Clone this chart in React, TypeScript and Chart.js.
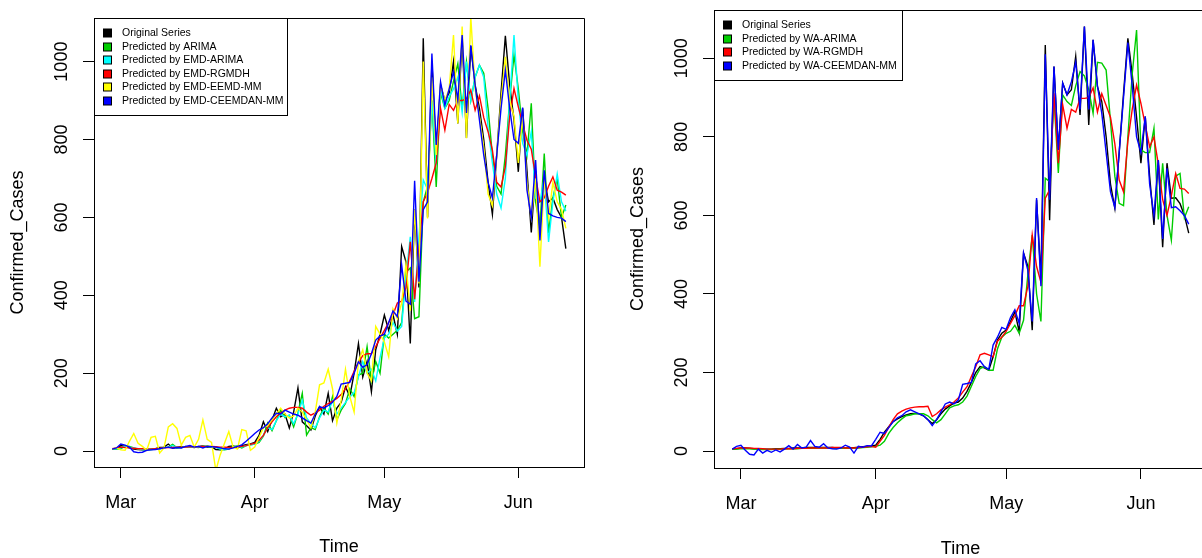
import React, { useEffect, useRef } from 'react';
import { Chart, registerables } from 'chart.js';

Chart.register(...registerables);

const FONT = "'Liberation Sans', Arial, Helvetica, sans-serif";

// x positions: day offsets relative to 1 March 2020 (first point = 28 Feb)
const START_DAY = -2;
const N_DAYS = 106;
const dayIndex: number[] = Array.from({ length: N_DAYS }, (_, i) => START_DAY + i);
const monthTicks = [0, 31, 61, 92];
const monthLabels = ['Mar', 'Apr', 'May', 'Jun'];
const yTickValues = [0, 200, 400, 600, 800, 1000];

// ---------- left panel ----------
const originalLeft = [
  5, 6, 14, 12, 8, 5, 4, 3, 4, 5, 6, 9, 10, 18, 8, 9, 12, 10, 11, 9, 12, 13, 10, 11, 4, 3, 5, 12, 13, 8, 14, 16, 18,
  22, 40, 75, 50, 80, 110, 88, 95, 59, 100,
  162, 75, 65, 54, 90, 114, 95, 148, 78, 110,
  125, 165, 140, 200, 276, 190, 230, 152, 260, 300,
  349, 310, 350, 300, 525, 486, 276, 620, 420, 1060,
  600, 1000, 760, 940, 900, 920, 1000, 841, 1060, 804,
  1040, 940, 880, 800, 690, 608, 760, 920, 1066, 940,
  850, 717, 880, 720, 561, 720, 560, 700, 640, 650,
  620, 600, 520,
];
const arimaLeft = [
  5, 5, 6, 13, 12, 8, 5, 4, 3, 4, 5, 6, 9, 10, 17, 8, 9, 12, 10, 10, 9, 12, 13, 10, 11, 4, 3, 5, 12, 13, 8, 14, 16,
  18, 22, 38, 72, 52, 78, 105, 86, 92, 62,
  98, 148, 41, 60, 55, 88, 110, 95, 140, 80,
  105, 122, 160, 140, 195, 200, 268, 180, 230, 200,
  300, 290, 300, 310, 330, 460, 470, 340, 345, 640,
  680, 900, 678, 920, 880, 900, 950, 995, 880, 1000,
  900, 960, 991, 970, 880, 760, 680, 660, 760, 900,
  1017, 930, 820, 760, 893, 640, 576, 764, 560, 650,
  700, 600, 632,
];
const emdArimaLeft = [
  6, 6, 8, 12, 10, 8, 6, 4, 4, 4, 5, 6, 8, 10, 14, 9, 9, 11, 10, 11, 10, 12, 12, 11, 10, 6, 4, 6, 10, 12, 10, 14, 16,
  18, 25, 40, 60, 55, 78, 95, 88, 92, 70,
  95, 130, 85, 70, 60, 85, 105, 100, 130, 95,
  110, 125, 139, 150, 190, 230, 200, 210, 180, 240,
  290, 300, 330, 308, 320, 450, 550, 383, 550, 696,
  672, 900, 734, 930, 880, 910, 930, 960, 870, 1000,
  900, 960, 991, 960, 830, 740, 660, 624, 700, 900,
  1068, 900, 790, 760, 820, 650, 640, 700, 537, 640,
  711, 640, 616,
];
const emdRgmdhLeft = [
  6, 8, 10, 9, 8, 7, 6, 6, 5, 5, 6, 7, 8, 9, 9, 10, 10, 10, 11, 11, 11, 12, 12, 12, 11, 10, 10, 9, 9, 10, 12, 14, 17,
  20, 28, 40, 60, 75, 88, 98, 105, 110, 112,
  112, 110, 100, 92, 98, 105, 115, 122, 128, 135,
  145, 160, 180, 205, 228, 245, 250, 250, 268, 290,
  310, 330, 350, 380, 385, 420, 537, 390, 520, 640,
  664, 700, 740, 880, 824, 890, 875, 900, 900, 905,
  927, 875, 912, 856, 820, 773, 690, 678, 730, 858,
  931, 884, 840, 798, 775, 704, 640, 650, 680, 704,
  670, 665, 657,
];
const emdEemdLeft = [
  5, 8, 3, 2, 25, 45, 20, 12, 2, 35, 38, -5, 8, 62, 70, 58, 15, 35, 40, 10, 30, 80, 30, 22, -50, -10, 20, 50, 10, 5, 55, 52, 2,
  10, 35, 60, 65, 80, 95, 110, 95, 85, 90,
  110, 100, 80, 60, 100, 170, 175, 210, 160, 72,
  130, 210, 140, 100, 230, 260, 200, 180, 320, 300,
  280, 242, 365, 340, 380, 480, 360, 620, 430, 1000,
  597, 960, 760, 940, 900, 930, 1068, 841, 1090, 803,
  1115, 930, 860, 780, 660, 630, 760, 900, 1012, 900,
  860, 740, 860, 690, 600, 700, 473, 700, 600, 690,
  640, 620, 572,
];
const emdCeemdanLeft = [
  5, 8, 18, 15, 10, -2, -4, -3, 2, 3, 4, 6, 8, 10, 7, 9, 8, 12, 14, 10, 12, 8, 12, 11, 10, 8, 6, 5, 8, 12, 16, 25, 35,
  45, 54, 60, 70, 85, 97, 95, 105, 100, 95,
  92, 85, 78, 72, 95, 114, 110, 117, 125, 140,
  172, 174, 176, 200, 229, 215, 222, 250, 285, 295,
  300, 330, 360, 345, 478, 385, 377, 694, 435, 620,
  640, 1021, 786, 948, 888, 930, 974, 901, 1068, 868,
  1042, 940, 850, 760, 690, 650, 760, 880, 978, 880,
  800, 790, 882, 670, 600, 747, 541, 721, 610, 604,
  600, 598, 589,
];

// ---------- right panel ----------
const originalRight = [
  5, 6, 8, 8, 7, 6, 5, 5, 5, 5, 6, 6, 7, 7, 8, 8, 8, 9, 9, 9, 9, 9, 9, 9, 8, 8, 8, 8, 9, 10, 11, 12, 13,
  15, 30, 48, 62, 75, 82, 88, 92, 95, 96,
  95, 90, 80, 70, 80, 95, 107, 115, 122, 125,
  135, 152, 175, 200, 215, 212, 206, 240, 283, 300,
  308, 330, 355, 304, 504, 470, 308, 640, 440, 1034,
  588, 979, 767, 937, 907, 920, 1005, 856, 1081, 830,
  1047, 928, 890, 800, 680, 618, 760, 910, 1051, 960,
  850, 733, 852, 700, 576, 741, 519, 733, 644, 645,
  630, 600, 555,
];
const waArimaRight = [
  5, 5, 6, 6, 6, 5, 5, 4, 4, 4, 5, 5, 5, 6, 6, 6, 7, 7, 7, 7, 8, 8, 8, 8, 8, 7, 7, 7, 7, 8, 9, 10, 11,
  12, 15, 25, 45, 60, 72, 82, 90, 92, 95,
  95, 95, 90, 80, 72, 80, 95, 110, 115, 118,
  125, 140, 165, 190, 210, 215, 206, 206, 260, 290,
  300, 305, 320, 300, 333, 450, 550, 400, 330, 695,
  686, 900, 708, 907, 890, 880, 930, 966, 955, 920,
  860, 990, 988, 970, 840, 700, 631, 625, 800, 960,
  1072, 767, 760, 760, 822, 590, 733, 600, 537, 700,
  707, 594, 622,
];
const waRgmdhRight = [
  6, 7, 8, 8, 8, 7, 7, 6, 5, 5, 5, 5, 6, 6, 6, 7, 7, 7, 8, 8, 8, 8, 8, 9, 9, 9, 8, 8, 8, 9, 10, 11, 12,
  10, 25, 40, 61, 80, 95, 102, 107, 110, 112,
  113, 113, 114, 88, 95, 105, 112, 118, 125, 135,
  150, 164, 190, 215, 245, 249, 245, 240, 280, 290,
  305, 325, 345, 370, 370, 420, 550, 470, 430, 644,
  665, 911, 733, 882, 822, 870, 863, 898, 898, 900,
  925, 863, 910, 880, 850, 782, 690, 660, 790, 870,
  932, 885, 830, 775, 800, 730, 640, 600, 650, 707,
  669, 667, 656,
];
const waCeemdanRight = [
  5, 12, 15, 2, -8, -10, 5, -5, 2, -3, 3, -2, 5, 14, 5, 17, 8, 10, 27, 12, 10, 19, 8, 6, 5, 8, 15, 10, -5, 12, 10, 14, 13,
  30, 48, 45, 60, 75, 85, 90, 100, 105, 100,
  95, 90, 80, 65, 80, 100, 120, 125, 120, 130,
  170, 172, 175, 222, 230, 215, 208, 270, 290, 315,
  310, 340, 360, 325, 504, 460, 330, 644, 420, 1010,
  640, 979, 767, 937, 907, 940, 990, 870, 1081, 870,
  1047, 930, 860, 760, 660, 620, 760, 900, 1040, 930,
  800, 760, 852, 680, 600, 741, 540, 720, 620, 622,
  612, 600, 578,
];

const COLORS = {
  black: '#000000',
  green: '#00CD00',
  cyan: '#00FFFF',
  red: '#FF0000',
  yellow: '#FFFF00',
  blue: '#0000FF',
};

type Series = { label: string; color: string; values: number[] };
type PanelSpec = {
  canvasLeft: number;
  canvasWidth: number;
  area: { left: number; top: number; right: number; bottom: number };
  yMin: number;
  yMax: number;
  legendW: number;
  legendH: number;
  yTitleCenter: number;
  xTitleCenter: number;
  series: Series[];
};

const H = 558;

const leftSpec: PanelSpec = {
  canvasLeft: 0,
  canvasWidth: 600,
  area: { left: 94, top: 18, right: 584, bottom: 467 },
  yMin: -41,
  yMax: 1112,
  legendW: 193,
  legendH: 97,
  yTitleCenter: 18.5,
  xTitleCenter: 547,
  series: [
    { label: 'Original Series', color: COLORS.black, values: originalLeft },
    { label: 'Predicted by ARIMA', color: COLORS.green, values: arimaLeft },
    { label: 'Predicted by EMD-ARIMA', color: COLORS.cyan, values: emdArimaLeft },
    { label: 'Predicted by EMD-RGMDH', color: COLORS.red, values: emdRgmdhLeft },
    { label: 'Predicted by EMD-EEMD-MM', color: COLORS.yellow, values: emdEemdLeft },
    { label: 'Predicted by EMD-CEEMDAN-MM', color: COLORS.blue, values: emdCeemdanLeft },
  ],
};

const rightSpec: PanelSpec = {
  canvasLeft: 600,
  canvasWidth: 620,
  area: { left: 114, top: 10, right: 607, bottom: 468 },
  yMin: -43,
  yMax: 1123,
  legendW: 188,
  legendH: 70,
  yTitleCenter: 38,
  xTitleCenter: 549,
  series: [
    { label: 'Original Series', color: COLORS.black, values: originalRight },
    { label: 'Predicted by WA-ARIMA', color: COLORS.green, values: waArimaRight },
    { label: 'Predicted by WA-RGMDH', color: COLORS.red, values: waRgmdhRight },
    { label: 'Predicted by WA-CEEMDAN-MM', color: COLORS.blue, values: waCeemdanRight },
  ],
};

function Panel({ spec }: { spec: PanelSpec }) {
  const ref = useRef<HTMLCanvasElement>(null);

  useEffect(() => {
    const canvas = ref.current;
    if (!canvas) return;
    const a = spec.area;
    const n = spec.series.length;

    const framePlugin = {
      id: 'rframe',
      afterDraw(chart: any) {
        const { ctx, chartArea } = chart;
        const xs = chart.scales.x;
        const ys = chart.scales.y;
        ctx.save();
        ctx.strokeStyle = '#000';
        ctx.lineWidth = 1;
        const L = Math.round(chartArea.left) + 0.5;
        const T = Math.round(chartArea.top) + 0.5;
        const R = Math.round(chartArea.right) + 0.5;
        const B = Math.round(chartArea.bottom) + 0.5;
        ctx.beginPath();
        ctx.moveTo(L, T);
        ctx.lineTo(R, T);
        ctx.lineTo(R, B);
        ctx.stroke();

        // tick labels (R style: y labels parallel to axis)
        ctx.fillStyle = '#000';
        ctx.font = `18px ${FONT}`;
        ctx.textAlign = 'center';
        ctx.textBaseline = 'middle';
        ys.ticks.forEach((t: any) => {
          const py = ys.getPixelForValue(t.value);
          ctx.save();
          ctx.translate(chartArea.left - 32, py);
          ctx.rotate(-Math.PI / 2);
          ctx.fillText(String(t.value), 0, 0);
          ctx.restore();
        });
        xs.ticks.forEach((t: any) => {
          const px = xs.getPixelForValue(t.value);
          const idx = monthTicks.indexOf(t.value);
          ctx.fillText(monthLabels[idx] ?? '', px, chartArea.bottom + 36);
        });

        // legend
        const lw = spec.legendW;
        const lh = spec.legendH;
        ctx.fillStyle = '#fff';
        ctx.fillRect(L, T, lw, lh);
        ctx.strokeStyle = '#000';
        ctx.strokeRect(L, T, lw, lh);
        ctx.font = `10.5px ${FONT}`;
        ctx.textAlign = 'left';
        chart.data.datasets.forEach((ds: any, i: number) => {
          const cy = chartArea.top + 15.3 + i * 13.5;
          ctx.fillStyle = ds.borderColor;
          ctx.fillRect(L + 9, Math.round(cy) - 4, 8, 8);
          ctx.strokeStyle = '#000';
          ctx.strokeRect(L + 9, Math.round(cy) - 4, 8, 8);
          ctx.fillStyle = '#000';
          ctx.fillText(ds.label, L + 27.5, cy);
        });
        ctx.restore();
      },
    };

    const chart = new Chart(canvas, {
      type: 'line',
      data: {
        datasets: spec.series.map((s, i) => ({
          label: s.label,
          data: s.values.map((v, j) => ({ x: dayIndex[j], y: v })),
          borderColor: s.color,
          backgroundColor: s.color,
          borderWidth: 1.4,
          pointRadius: 0,
          tension: 0,
          fill: false,
          clip: 0,
          order: n - 1 - i,
        })),
      },
      options: {
        responsive: false,
        animation: false,
        devicePixelRatio: 1,
        parsing: true,
        layout: {
          padding: {
            left: 0,
            top: a.top,
            right: spec.canvasWidth - a.right,
            bottom: 0,
          },
        },
        plugins: {
          legend: { display: false },
          tooltip: { enabled: false },
          title: { display: false },
        },
        scales: {
          x: {
            type: 'linear',
            min: -6.2,
            max: 107.2,
            afterBuildTicks: (scale: any) => {
              scale.ticks = monthTicks.map((v) => ({ value: v }));
            },
            afterFit: (scale: any) => {
              scale.height = H - a.bottom;
            },
            ticks: { display: false },
            grid: {
              display: true,
              drawOnChartArea: false,
              drawTicks: true,
              tickLength: 11,
              color: '#000',
              lineWidth: 1,
            },
            border: { display: true, color: '#000', width: 1 },
            title: {
              display: true,
              text: 'Time',
              color: '#000',
              font: { family: FONT, size: 18, lineHeight: 1 },
              padding: { top: 0, bottom: H - spec.xTitleCenter - 9 },
            },
          },
          y: {
            type: 'linear',
            min: spec.yMin,
            max: spec.yMax,
            afterBuildTicks: (scale: any) => {
              scale.ticks = yTickValues.map((v) => ({ value: v }));
            },
            afterFit: (scale: any) => {
              scale.width = a.left;
            },
            ticks: { display: false },
            grid: {
              display: true,
              drawOnChartArea: false,
              drawTicks: true,
              tickLength: 11,
              color: '#000',
              lineWidth: 1,
            },
            border: { display: true, color: '#000', width: 1 },
            title: {
              display: true,
              text: 'Confirmed_Cases',
              color: '#000',
              font: { family: FONT, size: 18, lineHeight: 1 },
              padding: { top: spec.yTitleCenter - 9, bottom: 0 },
            },
          },
        },
      },
      plugins: [framePlugin],
    } as any);

    return () => chart.destroy();
  }, [spec]);

  return (
    <div style={{ position: 'absolute', left: spec.canvasLeft, top: 0, width: spec.canvasWidth, height: H }}>
      <canvas
        ref={ref}
        width={spec.canvasWidth}
        height={H}
        style={{ display: 'block', width: spec.canvasWidth, height: H }}
      />
    </div>
  );
}

export default function App() {
  return (
    <div
      style={{
        position: 'absolute',
        left: 0,
        top: 0,
        width: 1202,
        height: H,
        overflow: 'hidden',
        background: '#fff',
      }}
    >
      <Panel spec={leftSpec} />
      <Panel spec={rightSpec} />
    </div>
  );
}
